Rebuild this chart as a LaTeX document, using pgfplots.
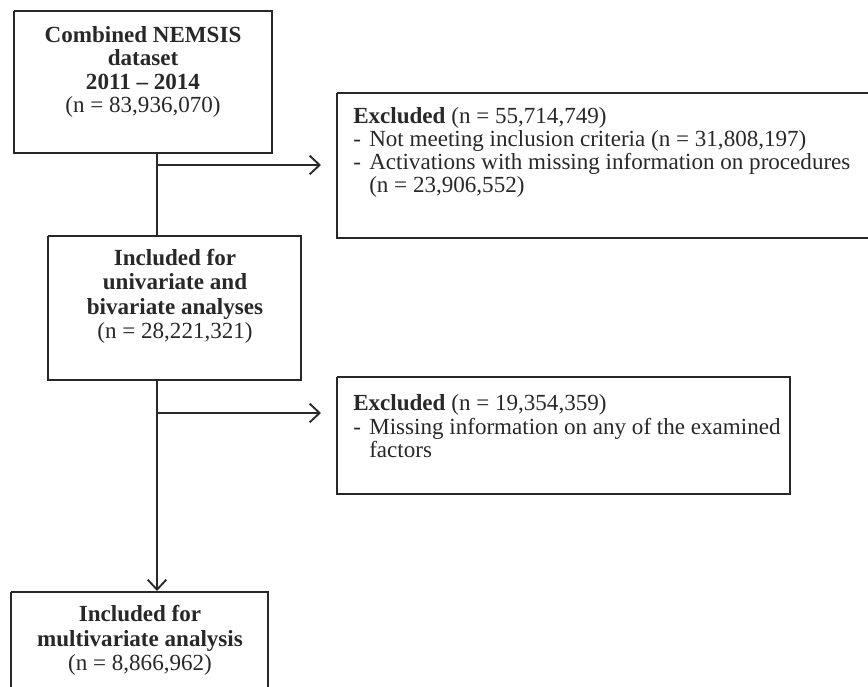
\documentclass[border=0pt]{standalone}
\usepackage{fontspec}
\setmainfont{Liberation Serif}
\usepackage{pgfplots}
\pgfplotsset{compat=1.18}
\usetikzlibrary{arrows.meta}
\definecolor{boxline}{RGB}{40,40,40}
\begin{document}
\begin{tikzpicture}[every node/.style={font=\fontsize{17.3pt}{20pt}\selectfont, inner sep=0pt, text=boxline}]
\begin{axis}[
  scale only axis, width=651pt, height=514.5pt,
  xmin=0, xmax=868, ymin=0, ymax=686, y dir=reverse,
  hide axis, clip=true,
]
% boxes
\addplot[boxline, line width=1pt, line join=miter] coordinates {(14,11)(272,11)(272,153)(14,153)(14,11)};
\addplot[boxline, line width=1pt, line join=miter] coordinates {(337,93)(900,93)(900,238)(337,238)(337,93)};
\addplot[boxline, line width=1pt, line join=miter] coordinates {(48,236)(301,236)(301,380)(48,380)(48,236)};
\addplot[boxline, line width=1pt, line join=miter] coordinates {(337,377)(790,377)(790,494)(337,494)(337,377)};
\addplot[boxline, line width=1pt, line join=miter] coordinates {(11,592)(268,592)(268,720)(11,720)(11,592)};
% connectors
\addplot[boxline, line width=1.4pt] coordinates {(157,153)(157,236)};
\addplot[boxline, line width=1.4pt, -{Straight Barb[length=7.5pt,width=14pt]}] coordinates {(157,165)(321,165)};
\addplot[boxline, line width=1.4pt, -{Straight Barb[length=7.5pt,width=14pt]}] coordinates {(157,380)(157,591)};
\addplot[boxline, line width=1.4pt, -{Straight Barb[length=7.5pt,width=14pt]}] coordinates {(157,413)(321,413)};
% box 1
\node[anchor=base] at (axis cs:143,42) {\bfseries Combined NEMSIS};
\node[anchor=base] at (axis cs:143,65.5) {\bfseries dataset};
\node[anchor=base] at (axis cs:143,89) {\bfseries 2011 -- 2014};
\node[anchor=base] at (axis cs:143,112.5) {(n = 83,936,070)};
% excluded 1
\node[anchor=base west] at (axis cs:353,123) {\textbf{Excluded} (n = 55,714,749)};
\node[anchor=base west] at (axis cs:353,146) {-};
\node[anchor=base west] at (axis cs:369,146) {Not meeting inclusion criteria (n = 31,808,197)};
\node[anchor=base west] at (axis cs:353,169) {-};
\node[anchor=base west] at (axis cs:369,169) {Activations with missing information on procedures};
\node[anchor=base west] at (axis cs:369,192) {(n = 23,906,552)};
% included
\node[anchor=base] at (axis cs:175,265) {\bfseries Included for};
\node[anchor=base] at (axis cs:175,289.5) {\bfseries univariate and};
\node[anchor=base] at (axis cs:175,314) {\bfseries bivariate analyses};
\node[anchor=base] at (axis cs:175,338) {(n = 28,221,321)};
% excluded 2
\node[anchor=base west] at (axis cs:353,410) {\textbf{Excluded} (n = 19,354,359)};
\node[anchor=base west] at (axis cs:353,434) {-};
\node[anchor=base west] at (axis cs:369,434) {Missing information on any of the examined};
\node[anchor=base west] at (axis cs:369,457) {factors};
% final
\node[anchor=base] at (axis cs:140,621) {\bfseries Included for};
\node[anchor=base] at (axis cs:140,646) {\bfseries multivariate analysis};
\node[anchor=base] at (axis cs:140,670) {(n = 8,866,962)};
\end{axis}
\pgfresetboundingbox
\path (current axis.south west) rectangle (current axis.north east);
\end{tikzpicture}
\end{document}
